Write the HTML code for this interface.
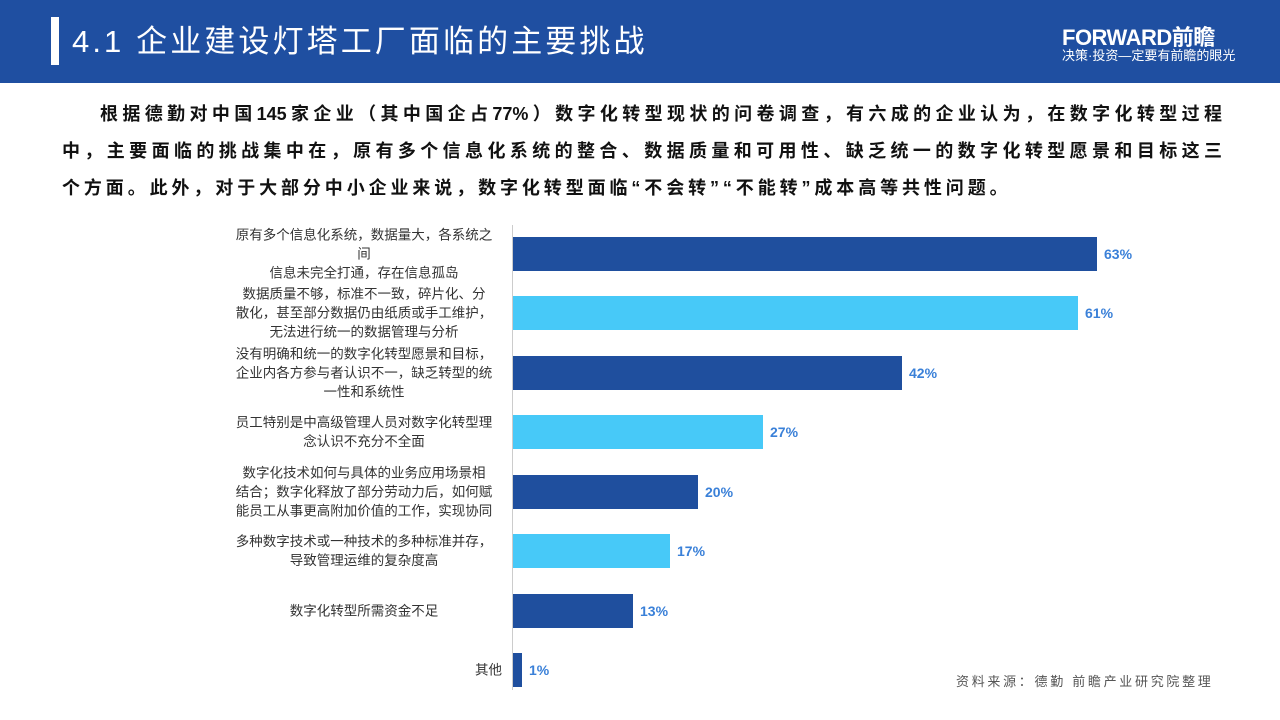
<!DOCTYPE html>
<html><head><meta charset="utf-8"><style>
body{margin:0;width:1280px;height:720px;position:relative;background:#fff;font-family:"Liberation Sans","Noto Sans CJK SC",sans-serif;overflow:hidden}
.hdr{position:absolute;left:0;top:0;width:1280px;height:83px;background:#1f4fa1}
.bar1{position:absolute;left:51px;top:17px;width:8px;height:48px;background:#fff}
.title{position:absolute;left:72px;top:22px;color:#fff;font-size:31px;letter-spacing:3.1px;line-height:40px}
.logo{position:absolute;left:1062px;top:20px;color:#fff;font-size:22px;font-weight:bold;letter-spacing:-0.5px}
.slog{position:absolute;left:1062px;top:45px;color:#fff;font-size:13px}
.pl{position:absolute;left:62px;width:1160px;font-size:18px;line-height:37px;color:#111;font-weight:bold;text-align:justify;text-align-last:justify;white-space:nowrap}
.axis{position:absolute;left:512px;top:225px;width:1px;height:465px;background:#ccc}
.b{position:absolute;left:513px;height:34px}
.d{background:#1f4f9e}.l{background:#47c9f8}
.p{position:absolute;color:#3a80d8;font-weight:bold;font-size:14px}
.lab{position:absolute;right:776px;width:280px;text-align:center;font-size:13.5px;color:#333;line-height:19px;transform:translateY(-50%);white-space:nowrap}
.src{position:absolute;left:956px;top:671px;font-size:13px;color:#555;letter-spacing:2.7px}
</style></head><body>
<div class="hdr"></div><div class="bar1"></div>
<div class="title">4.1 企业建设灯塔工厂面临的主要挑战</div>
<div class="logo">FORWARD前瞻</div><div class="slog">决策·投资—定要有前瞻的眼光</div>
<div class="pl" style="top:96px;left:100px;width:1122px">根据德勤对中国145家企业（其中国企占77%）数字化转型现状的问卷调查，有六成的企业认为，在数字化转型过程</div>
<div class="pl" style="top:133px">中，主要面临的挑战集中在，原有多个信息化系统的整合、数据质量和可用性、缺乏统一的数字化转型愿景和目标这三</div>
<div class="pl" style="top:170px;text-align-last:auto;letter-spacing:3.9px">个方面。此外，对于大部分中小企业来说，数字化转型面临“不会转”“不能转”成本高等共性问题。</div>
<div class="axis"></div>
<div class="b d" style="top:237px;width:584px"></div><div class="p" style="left:1104px;top:246px">63%</div>
<div class="b l" style="top:296px;width:565px"></div><div class="p" style="left:1085px;top:305px">61%</div>
<div class="b d" style="top:356px;width:389px"></div><div class="p" style="left:909px;top:365px">42%</div>
<div class="b l" style="top:415px;width:250px"></div><div class="p" style="left:770px;top:424px">27%</div>
<div class="b d" style="top:475px;width:185px"></div><div class="p" style="left:705px;top:484px">20%</div>
<div class="b l" style="top:534px;width:157px"></div><div class="p" style="left:677px;top:543px">17%</div>
<div class="b d" style="top:594px;width:120px"></div><div class="p" style="left:640px;top:603px">13%</div>
<div class="b d" style="top:653px;width:9px"></div><div class="p" style="left:529px;top:662px">1%</div>
<div class="lab" style="top:254px">原有多个信息化系统，数据量大，各系统之<br>间<br>信息未完全打通，存在信息孤岛</div>
<div class="lab" style="top:313px">数据质量不够，标准不一致，碎片化、分<br>散化，甚至部分数据仍由纸质或手工维护，<br>无法进行统一的数据管理与分析</div>
<div class="lab" style="top:373px">没有明确和统一的数字化转型愿景和目标，<br>企业内各方参与者认识不一，缺乏转型的统<br>一性和系统性</div>
<div class="lab" style="top:432px">员工特别是中高级管理人员对数字化转型理<br>念认识不充分不全面</div>
<div class="lab" style="top:492px">数字化技术如何与具体的业务应用场景相<br>结合；数字化释放了部分劳动力后，如何赋<br>能员工从事更高附加价值的工作，实现协同</div>
<div class="lab" style="top:551px">多种数字技术或一种技术的多种标准并存，<br>导致管理运维的复杂度高</div>
<div class="lab" style="top:611px">数字化转型所需资金不足</div>
<div class="lab" style="top:670px;right:778px;text-align:right">其他</div>
<div class="src">资料来源：德勤 前瞻产业研究院整理</div>
</body></html>
